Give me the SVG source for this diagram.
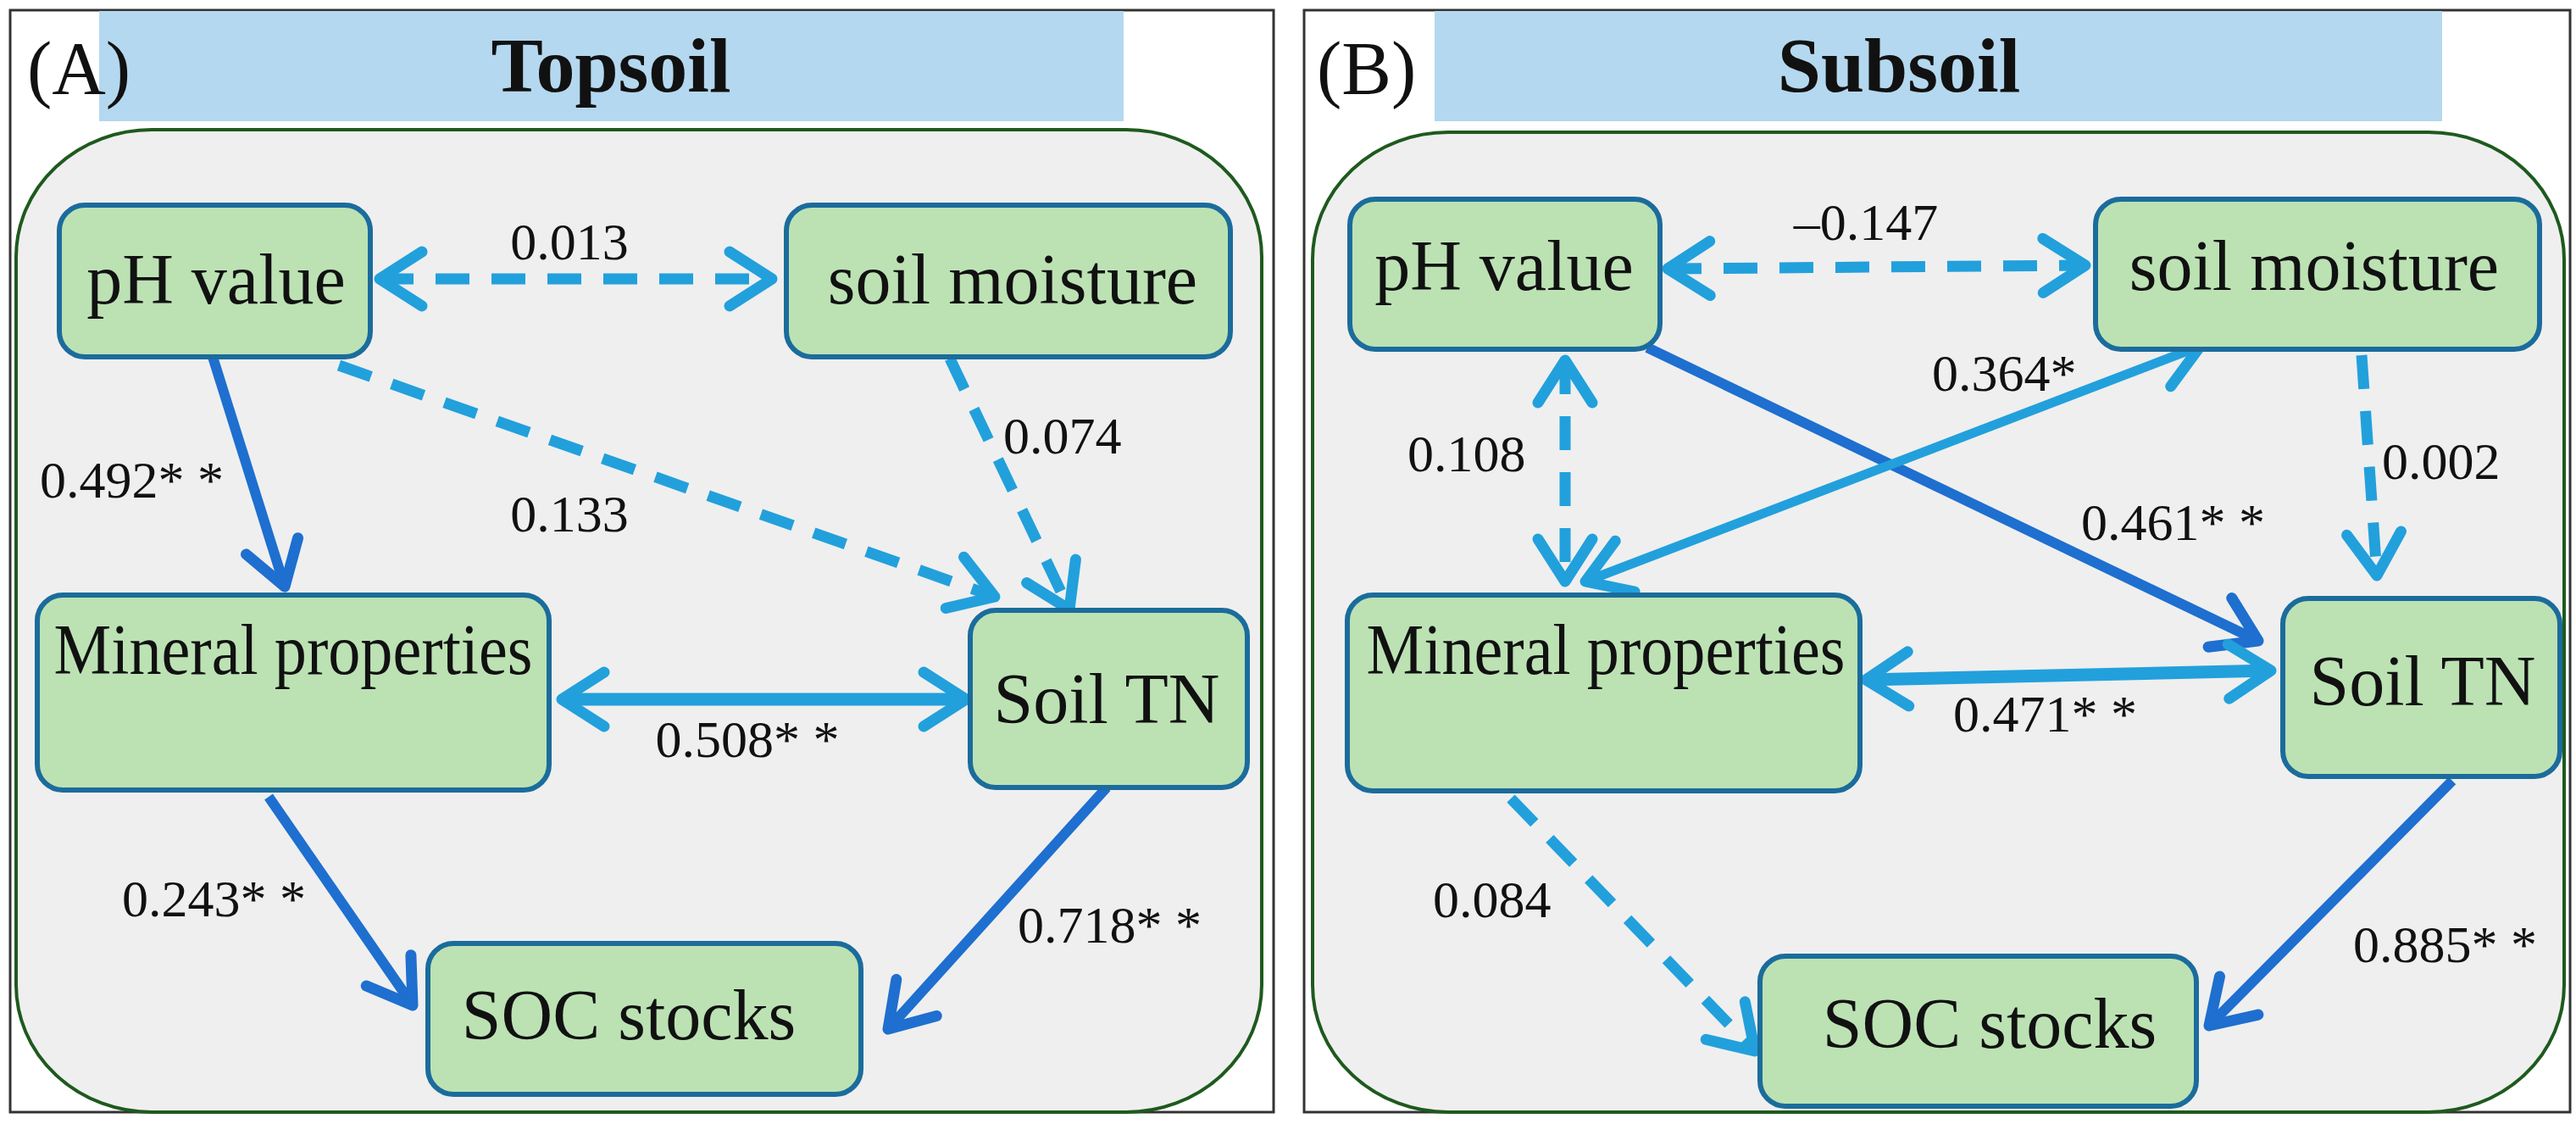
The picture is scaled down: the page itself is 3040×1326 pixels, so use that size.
<svg xmlns="http://www.w3.org/2000/svg" width="3040" height="1326" viewBox="0 0 3040 1326">
<style>
.panel{fill:#fff;stroke:#333;stroke-width:3}
.bar{fill:#B4D8EF}
.bg{fill:#EFEFEF;stroke:#1E5A1E;stroke-width:4}
.node rect{fill:#BCE2B4;stroke:#1B6C9C;stroke-width:6}
.nt{font-family:"Liberation Serif","Times New Roman",serif;font-size:84px;text-anchor:middle;fill:#111}
.lb{font-family:"Liberation Serif","Times New Roman",serif;font-size:62px;fill:#111}
.title{font-family:"Liberation Serif","Times New Roman",serif;font-size:92px;font-weight:bold;text-anchor:middle;fill:#111}
.pl{font-family:"Liberation Serif","Times New Roman",serif;font-size:88px;fill:#111}
.dk{stroke:#1E6FCF;stroke-width:12;fill:none}
.lt{stroke:#22A0DC;stroke-width:11;fill:none}
.ltb{stroke:#22A0DC;stroke-width:15;fill:none}
.dash{stroke-dasharray:40 26;stroke-width:13}
</style>
<defs>
<marker id="mdk" viewBox="-70 -70 140 140" markerWidth="140" markerHeight="140" refX="0" refY="0" orient="auto-start-reverse" markerUnits="userSpaceOnUse"><path d="M-50 -32 L0 0 L-50 32" fill="none" stroke="#1E6FCF" stroke-width="13" stroke-linecap="round" stroke-linejoin="round"/></marker>
<marker id="mlt" viewBox="-70 -70 140 140" markerWidth="140" markerHeight="140" refX="0" refY="0" orient="auto-start-reverse" markerUnits="userSpaceOnUse"><path d="M-50 -32 L0 0 L-50 32" fill="none" stroke="#22A0DC" stroke-width="13" stroke-linecap="round" stroke-linejoin="round"/></marker>
</defs>
<!-- Panel A -->
<rect class="panel" x="12" y="12" width="1491" height="1300"/>
<rect class="bar" x="117" y="13" width="1209" height="130"/>
<text class="pl" x="32" y="110">(A)</text>
<text class="title" x="721" y="108">Topsoil</text>
<rect class="bg" x="19" y="153" width="1470" height="1159" rx="160" ry="150"/>
<!-- Panel B -->
<rect class="panel" x="1539" y="12" width="1494" height="1300"/>
<rect class="bar" x="1693" y="13" width="1189" height="130"/>
<text class="pl" x="1554" y="110">(B)</text>
<text class="title" x="2241" y="108">Subsoil</text>
<rect class="bg" x="1549" y="156" width="1477" height="1156" rx="160" ry="150"/>
<g id="connectors">
<line class="lt dash" x1="448" y1="329" x2="911" y2="329" marker-start="url(#mlt)" marker-end="url(#mlt)"/>
<line class="dk" x1="251" y1="421" x2="336" y2="692" marker-end="url(#mdk)"/>
<line class="lt dash" x1="400" y1="431" x2="1174" y2="704" marker-end="url(#mlt)"/>
<line class="lt dash" x1="1121" y1="423" x2="1262" y2="719" marker-end="url(#mlt)"/>
<line class="ltb" x1="663" y1="825" x2="1140" y2="825" marker-start="url(#mlt)" marker-end="url(#mlt)"/>
<line class="dk" x1="317" y1="940" x2="487" y2="1186" marker-end="url(#mdk)"/>
<line class="dk" x1="1306" y1="929" x2="1048" y2="1214" marker-end="url(#mdk)"/>
<line class="lt dash" x1="1968" y1="317" x2="2461" y2="313" marker-start="url(#mlt)" marker-end="url(#mlt)"/>
<line class="dk" x1="1944" y1="410" x2="2665" y2="756" marker-end="url(#mdk)"/>
<line class="lt" x1="1871" y1="686" x2="2597" y2="408" marker-start="url(#mlt)" marker-end="url(#mlt)"/>
<line class="lt dash" x1="1847" y1="425" x2="1847" y2="686" marker-start="url(#mlt)" marker-end="url(#mlt)"/>
<line class="lt dash" x1="2787" y1="419" x2="2805" y2="679" marker-end="url(#mlt)"/>
<line class="ltb" x1="2202" y1="802" x2="2680" y2="791" marker-start="url(#mlt)" marker-end="url(#mlt)"/>
<line class="lt dash" x1="1783" y1="942" x2="2071" y2="1240" marker-end="url(#mlt)"/>
<line class="dk" x1="2894" y1="921" x2="2607" y2="1210" marker-end="url(#mdk)"/>
</g>
<g id="labels">
<text class="lb" x="672" y="306" text-anchor="middle">0.013</text>
<text class="lb" x="1184" y="535">0.074</text>
<text class="lb" x="47" y="587">0.492* *</text>
<text class="lb" x="672" y="627" text-anchor="middle">0.133</text>
<text class="lb" x="882" y="893" text-anchor="middle">0.508* *</text>
<text class="lb" x="144" y="1081">0.243* *</text>
<text class="lb" x="1201" y="1112">0.718* *</text>
<text class="lb" x="2202" y="283" text-anchor="middle">–0.147</text>
<text class="lb" x="2280" y="461">0.364*</text>
<text class="lb" x="1661" y="556">0.108</text>
<text class="lb" x="2811" y="565">0.002</text>
<text class="lb" x="2456" y="637">0.461* *</text>
<text class="lb" x="2305" y="863">0.471* *</text>
<text class="lb" x="1691" y="1082">0.084</text>
<text class="lb" x="2777" y="1135">0.885* *</text>
</g>
<g id="a-ph" class="node"><rect x="70" y="242" width="367" height="179" rx="30"/><text class="nt" x="255" y="358">pH value</text></g>
<g id="a-sm" class="node"><rect x="928" y="242" width="524" height="179" rx="30"/><text class="nt" x="1195" y="358">soil moisture</text></g>
<g id="a-min" class="node"><rect x="44" y="702" width="604" height="230" rx="30"/><text class="nt" x="346" y="795" textLength="565" lengthAdjust="spacingAndGlyphs">Mineral properties</text></g>
<g id="a-tn" class="node"><rect x="1145" y="720" width="327" height="209" rx="30"/><text class="nt" x="1306" y="853">Soil TN</text></g>
<g id="a-soc" class="node"><rect x="505" y="1113" width="511" height="178" rx="30"/><text class="nt" x="742" y="1226">SOC stocks</text></g>
<g id="b-ph" class="node"><rect x="1593" y="235" width="366" height="177" rx="30"/><text class="nt" x="1775" y="342">pH value</text></g>
<g id="b-sm" class="node"><rect x="2473" y="235" width="524" height="177" rx="30"/><text class="nt" x="2731" y="342">soil moisture</text></g>
<g id="b-min" class="node"><rect x="1590" y="702" width="605" height="231" rx="30"/><text class="nt" x="1895" y="795" textLength="565" lengthAdjust="spacingAndGlyphs">Mineral properties</text></g>
<g id="b-tn" class="node"><rect x="2694" y="706" width="327" height="210" rx="30"/><text class="nt" x="2859" y="832">Soil TN</text></g>
<g id="b-soc" class="node"><rect x="2077" y="1128" width="515" height="177" rx="30"/><text class="nt" x="2348" y="1236">SOC stocks</text></g>
</svg>
